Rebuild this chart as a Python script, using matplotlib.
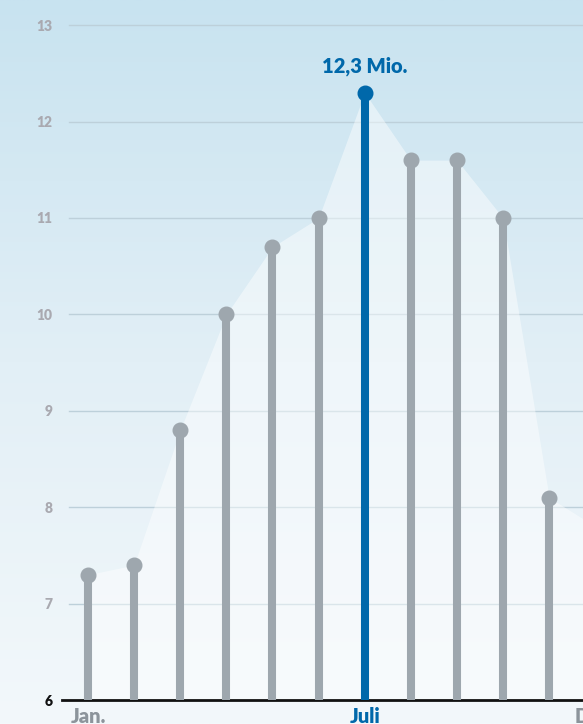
import numpy as np
import matplotlib.pyplot as plt
from matplotlib.colors import LinearSegmentedColormap

months = ["Jan.", "Feb.", "März", "Apr.", "Mai", "Juni", "Juli",
          "Aug.", "Sep.", "Okt.", "Nov.", "Dez."]
values = [7.3, 7.4, 8.8, 10.0, 10.7, 11.0, 12.3, 11.6, 11.6, 11.0, 8.1, 7.8]
shown_labels = ["Jan.", "Juli", "Dez."]
peak_label = "12,3 Mio."
yticks = [6, 7, 8, 9, 10, 11, 12, 13]

plt.rcParams['font.family'] = ['Lato', 'DejaVu Sans']

GREY = "#9ea7ae"
BLUE = "#0068aa"

fig = plt.figure(figsize=(5.83, 7.24), dpi=100)

# background gradient
bg = fig.add_axes([0, 0, 1, 1], zorder=0)
cmap = LinearSegmentedColormap.from_list("bg", ["#f3f8fb", "#e2eff6", "#c8e3f0"])
bg.imshow(np.linspace(0, 1, 256).reshape(-1, 1), aspect="auto", cmap=cmap,
          origin="lower", extent=[0, 1, 0, 1])
bg.axis("off")

ax = fig.add_axes([62 / 583, 24 / 724, 578 / 583, 694.1 / 724], zorder=1)
ax.patch.set_alpha(0)
x = np.arange(len(months))
ax.set_xlim(-0.564, 11.97)
ax.set_ylim(6, 13.2)

for y in yticks[1:]:
    ax.axhline(y, xmin=7 / 578, color="#bdd0da", lw=1, zorder=1)

ax.fill_between(x, values, 6, color="white", alpha=0.45, lw=0, zorder=2)

peak = int(np.argmax(values))
for i, v in enumerate(values):
    c = BLUE if i == peak else GREY
    ax.plot([i, i], [6, v], color=c, lw=5.8, solid_capstyle="butt", zorder=3)
    ax.plot(i, v, "o", color=c, ms=10.5, zorder=4)

ax.text(peak, values[peak] + 0.17, peak_label, color=BLUE, fontsize=14.5,
        fontweight="heavy", ha="center", va="bottom", zorder=5)

for s in ["top", "right", "left"]:
    ax.spines[s].set_visible(False)
ax.spines["bottom"].set_color("#111111")
ax.spines["bottom"].set_linewidth(2)

ax.set_yticks(yticks)
ax.set_yticklabels([str(t) for t in yticks], fontweight="heavy", fontsize=10,
                   color="#a9a9b0")
ax.tick_params(axis="y", length=0, pad=7)
ax.get_yticklabels()[0].set_color("#111111")

ax.set_xticks([months.index(m) for m in shown_labels])
ax.set_xticklabels(shown_labels, fontweight="heavy", fontsize=14.5)
ax.tick_params(axis="x", length=0, pad=5)
for lab, m in zip(ax.get_xticklabels(), shown_labels):
    lab.set_color(BLUE if months.index(m) == peak else "#8c949b")

fig.savefig("out.png", dpi=100)
